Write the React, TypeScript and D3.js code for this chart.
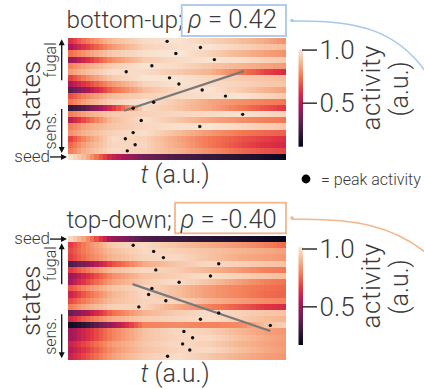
import React from "react";
import * as d3 from "d3";

// ---------------- DATA ----------------
// time knots (t, a.u.) at which each state's activity was read
const T_KNOTS = [0, 0.08, 0.2, 0.35, 0.5, 0.65, 0.8, 0.9, 1.0];

// bottom-up panel: 19 states (fugal -> sens.), top to bottom
const BU_ROWS = [
  [0.58, 0.75, 0.9, 0.97, 0.99, 0.95, 0.9, 0.86, 0.8],
  [0.47, 0.62, 0.82, 0.95, 0.98, 0.99, 0.95, 0.92, 0.9],
  [0.72, 0.82, 0.93, 0.98, 1.0, 0.95, 0.88, 0.84, 0.8],
  [0.42, 0.58, 0.8, 0.93, 0.97, 0.99, 0.98, 0.95, 0.93],
  [0.76, 0.85, 0.94, 0.99, 0.97, 0.92, 0.88, 0.85, 0.82],
  [0.82, 0.9, 0.98, 0.97, 0.93, 0.88, 0.75, 0.65, 0.58],
  [0.62, 0.78, 0.93, 0.99, 0.99, 0.96, 0.93, 0.92, 0.9],
  [0.47, 0.62, 0.82, 0.95, 0.99, 0.97, 0.95, 0.93, 0.92],
  [0.29, 0.45, 0.72, 0.9, 0.97, 0.99, 0.93, 0.88, 0.84],
  [0.65, 0.78, 0.9, 0.95, 0.97, 0.98, 0.99, 0.96, 0.93],
  [0.73, 0.85, 0.95, 0.99, 0.93, 0.85, 0.8, 0.77, 0.75],
  [0.2, 0.3, 0.6, 0.97, 0.92, 0.85, 0.75, 0.68, 0.62],
  [0.75, 0.85, 0.93, 0.95, 0.96, 0.97, 0.99, 0.97, 0.95],
  [0.5, 0.68, 0.9, 0.98, 0.92, 0.85, 0.8, 0.77, 0.75],
  [0.75, 0.85, 0.92, 0.96, 0.98, 0.99, 0.96, 0.94, 0.92],
  [0.8, 0.88, 0.95, 0.98, 0.9, 0.82, 0.75, 0.72, 0.7],
  [0.62, 0.8, 0.97, 0.95, 0.85, 0.75, 0.68, 0.64, 0.6],
  [0.7, 0.85, 0.96, 0.96, 0.86, 0.75, 0.66, 0.61, 0.57],
  [0.75, 0.88, 0.97, 0.95, 0.88, 0.8, 0.72, 0.68, 0.65],
];
const BU_SEED = [1.0, 0.88, 0.55, 0.35, 0.27, 0.22, 0.18, 0.15, 0.1];
const BU_PEAKS = [0.454, 0.607, 0.494, 0.671, 0.384, 0.266, 0.465, 0.508, 0.615, 0.722,
  0.392, 0.298, 0.801, 0.335, 0.604, 0.298, 0.262, 0.307, 0.271];
const BU_FIT_T = [0.256, 0.807];
const BU_FIT_ROW = [11.9, 5.4];
const BU_RANGE = [0.09, 1.01];
const BU_TITLE = "bottom-up;";
const BU_RHO = "0.42";

// top-down panel: 19 states (fugal -> sens.), top to bottom
const TD_ROWS = [
  [0.65, 0.8, 0.95, 0.98, 0.93, 0.88, 0.84, 0.8, 0.75],
  [0.68, 0.8, 0.92, 0.98, 0.96, 0.93, 0.9, 0.88, 0.86],
  [0.66, 0.78, 0.9, 0.97, 0.98, 0.93, 0.88, 0.86, 0.84],
  [0.33, 0.45, 0.7, 0.88, 0.94, 0.98, 0.96, 0.94, 0.93],
  [0.65, 0.78, 0.92, 0.98, 0.95, 0.9, 0.84, 0.8, 0.78],
  [0.48, 0.62, 0.82, 0.93, 0.96, 0.99, 0.96, 0.94, 0.92],
  [0.52, 0.68, 0.86, 0.95, 0.99, 0.93, 0.85, 0.8, 0.77],
  [0.7, 0.82, 0.93, 0.98, 0.92, 0.85, 0.8, 0.77, 0.75],
  [0.58, 0.74, 0.9, 0.98, 0.92, 0.85, 0.8, 0.76, 0.74],
  [0.68, 0.8, 0.92, 0.97, 0.97, 0.9, 0.85, 0.82, 0.8],
  [0.78, 0.88, 0.96, 0.97, 0.88, 0.8, 0.72, 0.66, 0.62],
  [0.38, 0.52, 0.76, 0.9, 0.95, 0.99, 0.96, 0.94, 0.93],
  [0.6, 0.74, 0.88, 0.95, 0.97, 0.99, 0.95, 0.92, 0.9],
  [0.2, 0.27, 0.5, 0.8, 0.82, 0.8, 0.82, 0.92, 0.96],
  [0.5, 0.62, 0.8, 0.93, 0.98, 0.96, 0.9, 0.86, 0.84],
  [0.5, 0.62, 0.8, 0.93, 0.97, 0.98, 0.92, 0.88, 0.85],
  [0.58, 0.7, 0.85, 0.94, 0.98, 0.96, 0.9, 0.87, 0.84],
  [0.54, 0.66, 0.83, 0.93, 0.97, 0.98, 0.92, 0.88, 0.85],
  [0.58, 0.7, 0.86, 0.95, 0.99, 0.94, 0.89, 0.86, 0.84],
];
const TD_SEED = [1.0, 0.85, 0.5, 0.35, 0.3, 0.26, 0.23, 0.2, 0.17];
const TD_PEAKS = [0.298, 0.392, 0.437, 0.691, 0.402, 0.653, 0.509, 0.384, 0.369, 0.448,
  0.324, 0.691, 0.607, 0.928, 0.531, 0.571, 0.525, 0.558, 0.456];
const TD_FIT_T = [0.295, 0.928];
const TD_FIT_ROW = [7.8, 15.4];
const TD_RANGE = [0.17, 1.02];
const TD_TITLE = "top-down;";
const TD_RHO = "-0.40";

const CBAR_TICKS = [0.5, 1.0];
const LEGEND_TEXT = "= peak activity";

// ---------------- STYLE ----------------
const ROCKET = d3.piecewise(d3.interpolateRgb, [
  "#03051a", "#35193e", "#701f57", "#ad1759", "#e13342", "#f37651", "#f6b48f", "#faebdd",
]);
const FONT = "Roboto, 'Liberation Sans', Arial, sans-serif";
const FW = 300;
const TEXT = "#3a3a3a";
const NCOL = 50;

type PanelProps = {
  rows: number[][];
  seed: number[];
  seedFirst: boolean;
  peaks: number[];
  fitT: number[];
  fitRow: number[];
  range: number[];
  title: string;
  rho: string;
  top: number;
  bottom: number;
  titleY: number;
  box: [number, number, number, number];
  rhoX: number;
  accent: string;
  cbarTop: number;
  cbarBottom: number;
  curve: string;
  id: string;
};

function Panel(p: PanelProps) {
  const x0 = 68.3, x1 = 286;
  const x = d3.scaleLinear().domain([0, 1]).range([x0, x1]);
  const all = p.seedFirst ? [p.seed, ...p.rows] : [...p.rows, p.seed];
  const n = all.length;
  const yb = d3.scaleBand<number>().domain(d3.range(n)).range([p.top, p.bottom]).padding(0);
  const yc = d3.scaleLinear().domain([0, n]).range([p.top, p.bottom]);
  const color = d3.scaleSequential(ROCKET).domain(p.range as [number, number]);
  const off = p.seedFirst ? 1 : 0;
  const seedIdx = p.seedFirst ? 0 : n - 1;

  const cells: React.ReactNode[] = [];
  all.forEach((vals, r) => {
    const f = d3.scaleLinear().domain(T_KNOTS).range(vals).clamp(true);
    for (let c = 0; c < NCOL; c++) {
      const xa = x(c / NCOL), xb = x((c + 1) / NCOL);
      cells.push(
        <rect key={`${r}-${c}`} x={xa} y={yb(r)!} width={xb - xa + 0.4} height={yb.bandwidth() + 0.4}
          fill={color(f((c + 0.5) / NCOL))} />
      );
    }
  });

  const cb = d3.scaleLinear().domain(p.range).range([p.cbarBottom, p.cbarTop]);
  const stops = d3.range(0, 1.0001, 0.05);

  const seedY = yb(seedIdx)! + yb.bandwidth() / 2;
  const fugalTop = p.seedFirst ? yb(1)! : p.top;
  const fugal: [number, number] = [fugalTop + 1, fugalTop + 42];
  const sensBottom = p.seedFirst ? p.bottom : yb(seedIdx)!;
  const sens: [number, number] = [sensBottom - 45, sensBottom - 1];
  const arrowX = 61.7;
  const statesY = (fugal[0] + sens[1]) / 2;
  const tp = { fontFamily: FONT, fontWeight: FW, fill: TEXT };

  return (
    <g>
      <defs>
        <linearGradient id={`cb-${p.id}`} x1="0" y1="1" x2="0" y2="0">
          {stops.map((s) => (
            <stop key={s} offset={s} stopColor={color(p.range[0] + s * (p.range[1] - p.range[0]))} />
          ))}
        </linearGradient>
      </defs>
      <g shapeRendering="crispEdges">{cells}</g>
      <line x1={x(p.fitT[0])} y1={yc(p.fitRow[0])} x2={x(p.fitT[1])} y2={yc(p.fitRow[1])}
        stroke="#7a7a7a" strokeWidth={2.2} />
      {p.peaks.map((t, i) => (
        <circle key={i} cx={x(t)} cy={yb(i + off)! + yb.bandwidth() / 2} r={1.7} fill="#111" />
      ))}
      <text x={66.5} y={p.titleY} fontSize={24.3} {...tp}>{p.title}</text>
      <rect x={p.box[0]} y={p.box[1]} width={p.box[2]} height={p.box[3]} fill="none"
        stroke={p.accent} strokeWidth={1.8} />
      <text x={p.rhoX} y={p.titleY} fontSize={25.5} {...tp}>
        <tspan fontStyle="italic">ρ</tspan> = {p.rho}
      </text>
      <path d={p.curve} fill="none" stroke={p.accent} strokeWidth={1.5} />
      <circle cx={p.box[0] + p.box[2] + 6} cy={p.box[1] + p.box[3] / 2} r={1.8} fill={p.accent} />
      <text x={50} y={seedY + 5} textAnchor="end" fontSize={17} {...tp}>seed</text>
      <line x1={50} y1={seedY} x2={63} y2={seedY} stroke="#111" strokeWidth={1.3} />
      <path d={`M${67},${seedY} L${61},${seedY - 3} L${61},${seedY + 3} Z`} fill="#111" />
      <line x1={arrowX} y1={fugal[0] + 4} x2={arrowX} y2={fugal[1]} stroke="#111" strokeWidth={1.3} />
      <path d={`M${arrowX},${fugal[0]} L${arrowX - 3},${fugal[0] + 6} L${arrowX + 3},${fugal[0] + 6} Z`} fill="#111" />
      <line x1={arrowX} y1={sens[0]} x2={arrowX} y2={sens[1] - 4} stroke="#111" strokeWidth={1.3} />
      <path d={`M${arrowX},${sens[1]} L${arrowX - 3},${sens[1] - 6} L${arrowX + 3},${sens[1] - 6} Z`} fill="#111" />
      <text transform={`translate(56,${(fugal[0] + fugal[1]) / 2}) rotate(-90)`} textAnchor="middle"
        fontSize={16} {...tp}>fugal</text>
      <text transform={`translate(56,${(sens[0] + sens[1]) / 2}) rotate(-90)`} textAnchor="middle"
        fontSize={16} {...tp}>sens.</text>
      <text transform={`translate(39.5,${statesY}) rotate(-90)`} textAnchor="middle"
        fontSize={26} {...tp}>states</text>
      <text x={(x0 + x1) / 2 - 2} y={p.bottom + 23} textAnchor="middle" fontSize={25} {...tp}>
        <tspan fontStyle="italic">t</tspan> (a.u.)
      </text>
      <rect x={298.5} y={p.cbarTop} width={4.5} height={p.cbarBottom - p.cbarTop} fill={`url(#cb-${p.id})`} />
      {CBAR_TICKS.map((v) => (
        <g key={v}>
          <line x1={302} x2={317} y1={cb(v)} y2={cb(v)} stroke="#222" strokeWidth={1.4} />
          <text x={319.5} y={cb(v) + 9} fontSize={26} {...tp}>{v.toFixed(1)}</text>
        </g>
      ))}
      <text transform={`translate(380,${(p.cbarTop + p.cbarBottom) / 2 - 10}) rotate(-90)`} textAnchor="middle"
        fontSize={26} letterSpacing={0.6} {...tp}>activity</text>
      <text transform={`translate(408,${(p.cbarTop + p.cbarBottom) / 2 - 9}) rotate(-90)`} textAnchor="middle"
        fontSize={25} {...tp}>(a.u.)</text>
    </g>
  );
}

export default function App() {
  return (
    <svg width={424} height={389} style={{ position: "absolute", left: 0, top: 0, background: "#fff" }}>
      <rect width={424} height={389} fill="#fff" />
      <Panel id="bu" rows={BU_ROWS} seed={BU_SEED} seedFirst={false} peaks={BU_PEAKS}
        fitT={BU_FIT_T} fitRow={BU_FIT_ROW} range={BU_RANGE} title={BU_TITLE} rho={BU_RHO}
        top={38.3} bottom={160} titleY={27.5} box={[181.7, 5, 104.3, 31]} rhoX={188}
        accent="#a9c7ec" cbarTop={49} cbarBottom={146.7}
        curve="M292,21 C350,20 400,26 432,82" />
      <Panel id="td" rows={TD_ROWS} seed={TD_SEED} seedFirst={true} peaks={TD_PEAKS}
        fitT={TD_FIT_T} fitRow={TD_FIT_ROW} range={TD_RANGE} title={TD_TITLE} rho={TD_RHO}
        top={236} bottom={359.3} titleY={227.5} box={[175, 202.7, 111, 30.6]} rhoX={180.5}
        accent="#f3b58c" cbarTop={246.7} cbarBottom={345}
        curve="M292,219.3 C350,218 395,224 432,258" />
      <circle cx={306} cy={179} r={4.4} fill="#000" />
      <text x={321} y={184.5} fontFamily={FONT} fontWeight={FW} fontSize={16} fill={TEXT}>{LEGEND_TEXT}</text>
    </svg>
  );
}
